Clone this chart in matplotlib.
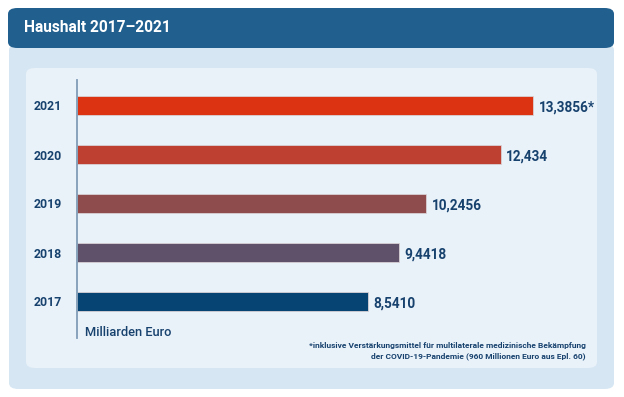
import matplotlib.pyplot as plt
from matplotlib.patches import FancyBboxPatch

# data
years = ["2017", "2018", "2019", "2020", "2021"]
values = [8.5410, 9.4418, 10.2456, 12.434, 13.3856]
value_labels = ["8,5410", "9,4418", "10,2456", "12,434", "13,3856*"]
bar_colors = ["#064573", "#5E5169", "#8E4C4C", "#BE4030", "#DC3312"]

title = "Haushalt 2017\u20132021"
unit_label = "Milliarden Euro"
footnote = ("*inklusive Verst\u00e4rkungsmittel f\u00fcr multilaterale medizinische Bek\u00e4mpfung\n"
            "der COVID-19-Pandemie (960 Millionen Euro aus Epl. 60)")

plt.rcParams["font.family"] = ["Roboto", "DejaVu Sans"]
TXT = "#17426E"

W, H = 624, 397
fig = plt.figure(figsize=(W / 100, H / 100), dpi=100)


def px_box(x0, y0, x1, y1, color, pad=6):
    # rounded box given in pixel coords (top-left origin)
    p = FancyBboxPatch((x0 / W, 1 - y1 / H), (x1 - x0) / W, (y1 - y0) / H,
                       boxstyle=f"round,pad=0,rounding_size={pad / H}",
                       transform=fig.transFigure, facecolor=color,
                       edgecolor="none", zorder=0)
    fig.add_artist(p)


px_box(9, 44, 614, 389, "#D6E7F3")
px_box(8, 8, 614, 48, "#215F8F")
px_box(26, 68, 597, 368, "#E9F1F9")

fig.text(24 / W, 1 - 28 / H, title, color="white", fontsize=11.2,
         fontweight="bold", va="center", ha="left")

# bar axes
left, right, top, bottom = 77, 597, 80, 338
ax = fig.add_axes([left / W, 1 - bottom / H, (right - left) / W, (bottom - top) / H])
ax.patch.set_alpha(0)
scale = 34.07
ax.set_xlim(0, (right - left) / scale)
step = 49.0
yb = -(bottom - 301.5) / step
ax.set_ylim(yb, yb + (bottom - top) / step)

pos = list(range(len(years)))
ax.barh(pos, values, height=0.4, color=bar_colors, edgecolor="#D8D2D6",
        linewidth=0.6, zorder=2)
for p, v, lab in zip(pos, values, value_labels):
    ax.text(v + 0.17, p - 0.04, lab, color=TXT, fontsize=9.8, fontweight="bold",
            va="center", ha="left")

ax.set_yticks(pos)
ax.set_yticklabels(years, fontsize=8.8, fontweight="bold", color=TXT)
ax.tick_params(axis="y", length=0, pad=11)
ax.set_xticks([])
for s in ["top", "right", "bottom"]:
    ax.spines[s].set_visible(False)
ax.spines["left"].set_color("#7F9CB6")
ax.spines["left"].set_linewidth(1.3)

fig.text(85 / W, 1 - 333 / H, unit_label, color=TXT, fontsize=9.3,
         fontweight="medium", va="center", ha="left")
fig.text(586 / W, 1 - 351 / H, footnote, color=TXT, fontsize=6.0,
         fontweight="bold", va="center", ha="right", linespacing=1.5,
         multialignment="right")

fig.savefig("out.png", dpi=100)
